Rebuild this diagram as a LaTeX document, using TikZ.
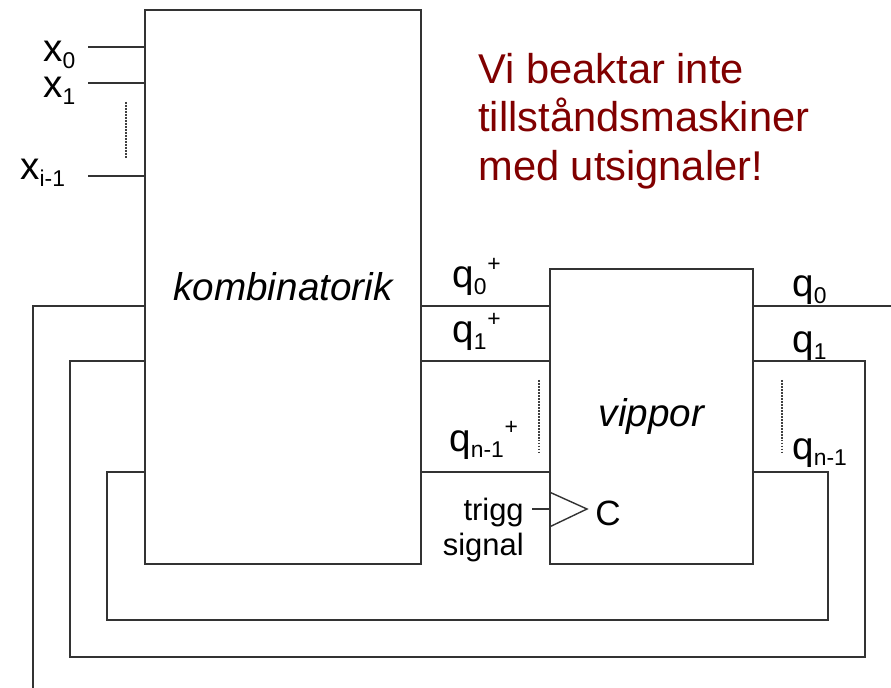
\documentclass[tikz,border=0pt]{standalone}
\usepackage{fontspec}
\setmainfont{Liberation Sans}
\usetikzlibrary{positioning}
\definecolor{notered}{RGB}{128,0,0}
\newcommand{\lo}[1]{\raisebox{-3.5pt}{\fontsize{13}{13}\selectfont #1}}
\newcommand{\hi}[1]{\kern0.5pt\raisebox{9.5pt}{\fontsize{13}{13}\selectfont #1}}

\begin{document}
\begin{tikzpicture}[x=0.02cm, y=-0.02cm,
    blk/.style={draw=black!80, line width=0.8pt, inner sep=0pt, font=\fontsize{22}{26}\selectfont\itshape},
    wire/.style={draw=black!80, line width=0.8pt},
    dots/.style={draw=black!75, line width=0.8pt, dash pattern=on 1pt off 0.7pt},
    lab/.style={font=\fontsize{22}{26}\selectfont, inner sep=0pt, anchor=base west},
    note/.style={font=\fontsize{23.7}{27.5}\selectfont, text=notered, align=left, inner sep=0pt, anchor=north west}
    ]
    \useasboundingbox (0,0) rectangle (891,688);

    % blocks
    \node[blk, minimum width=5.52cm, minimum height=11.08cm] (komb) at (283,287) {kombinatorik};
    \node[blk, minimum width=4.06cm, minimum height=5.9cm] (vipp) at (651.5,416.5) {vippor};

    % inputs
    \coordinate (in0) at (88,47);
    \coordinate (in1) at (88,83);
    \coordinate (in2) at (88,176);
    \draw[wire] (in0) -- (komb.west |- in0);
    \draw[wire] (in1) -- (komb.west |- in1);
    \draw[wire] (in2) -- (komb.west |- in2);
    \node[lab] (x0) at (43,62) {x\lo{0}};
    \node[lab] (x1) at (43,98) {x\lo{1}};
    \node[lab] (xi) at (20,180) {x\lo{i-1}};
    \draw[dots] (126,102) -- (126,158);

    % next state
    \coordinate (r0) at (0,306);
    \coordinate (r1) at (0,361);
    \coordinate (r2) at (0,472);
    \draw[wire] (komb.east |- r0) -- (vipp.west |- r0);
    \draw[wire] (komb.east |- r1) -- (vipp.west |- r1);
    \draw[wire] (komb.east |- r2) -- (vipp.west |- r2);
    \node[lab] (q0p) at (452,288) {q\lo{0}\hi{+}};
    \node[lab] (q1p) at (452,343) {q\lo{1}\hi{+}};
    \node[lab] (q2p) at (449,451) {q\lo{n-1}\hi{+}};
    \draw[dots] (539,380) -- (539,454);

    % clock
    \coordinate (clk) at (532,509);
    \draw[wire] (clk) -- (vipp.west |- clk);
    \draw[wire] (vipp.west |- 0,492) -- (587,509) -- (vipp.west |- 0,527);
    \node[font=\fontsize{17.6}{19.8}\selectfont, align=right, inner sep=0pt, anchor=east] (trig) at (524,530) {trigg\\signal};
    \node[lab, font=\fontsize{20}{20}\selectfont] (clab) at (595,525) {C};

    % state feedback
    \coordinate (q0out) at (891,306);
    \coordinate (q0back) at (33,688);
    \coordinate (loop1r) at (865,657);
    \coordinate (loop1l) at (70,361);
    \coordinate (loop2r) at (828,620);
    \coordinate (loop2l) at (107,472);
    \draw[wire] (vipp.east |- r0) -- (q0out);
    \draw[wire] (komb.west |- r0) -| (q0back);
    \draw[wire] (vipp.east |- r1) -| (loop1r) -| (loop1l) -- (komb.west |- r1);
    \draw[wire] (vipp.east |- r2) -| (loop2r) -| (loop2l) -- (komb.west |- r2);
    \node[lab] (q0) at (792,297) {q\lo{0}};
    \node[lab] (q1) at (792,353) {q\lo{1}};
    \node[lab] (q2) at (792,459) {q\lo{n-1}};
    \draw[dots] (782,380) -- (782,454);

    \node[note] (remark) at (478,53) {Vi beaktar inte\\tillståndsmaskiner\\med utsignaler!};
\end{tikzpicture}
\end{document}
